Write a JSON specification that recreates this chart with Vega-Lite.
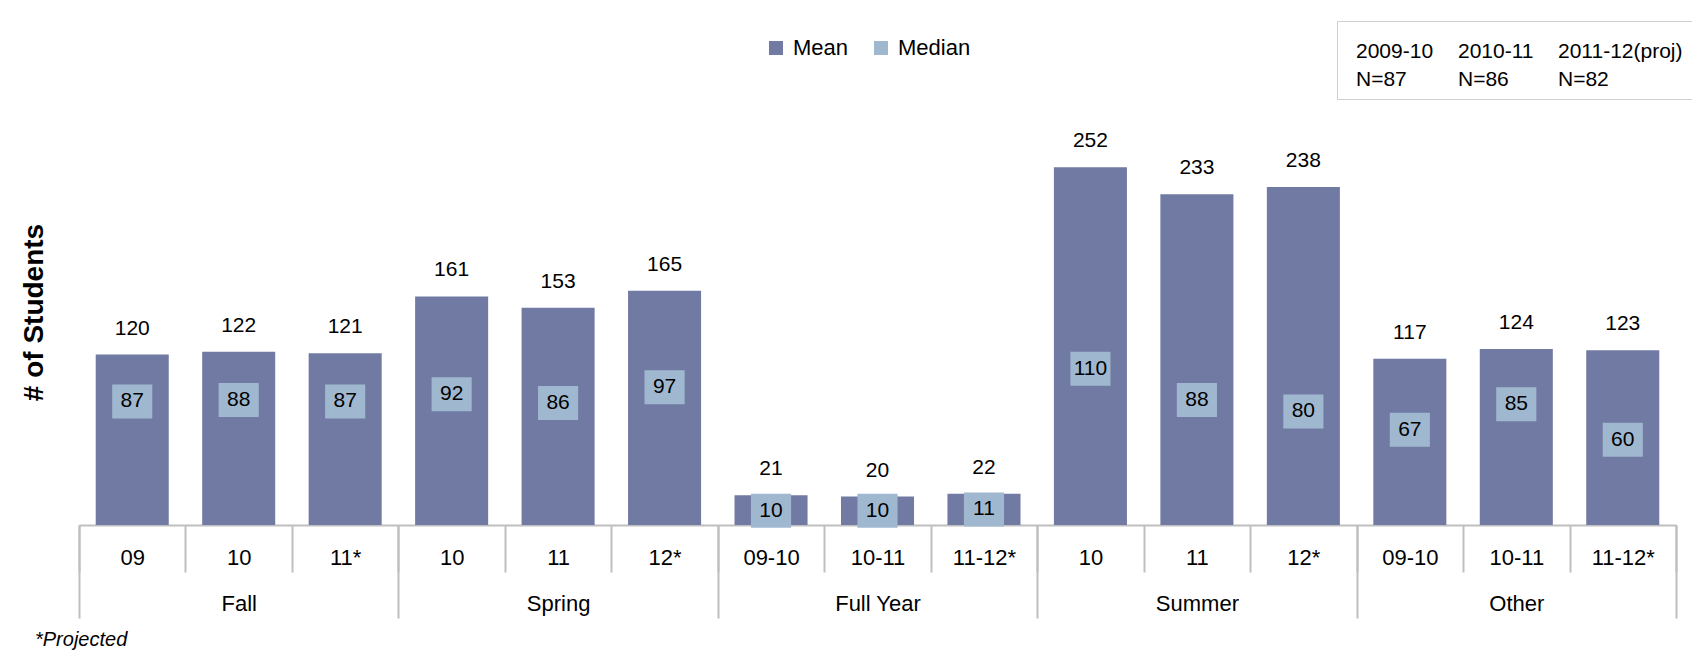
{
  "$schema": "https://vega.github.io/schema/vega-lite/v6.json",
  "width": 1597,
  "height": 426,
  "autosize": {"type": "none"},
  "padding": {"left": 79, "top": 99, "right": 16, "bottom": 135},
  "background": "white",
  "config": {
    "font": "Liberation Sans",
    "view": {"stroke": null},
    "style": {"guide-label": {"lineHeight": 28}},
    "axisY": {
      "title": "# of Students",
      "titleFont": "Liberation Sans",
      "titleFontSize": 28,
      "titleFontWeight": "bold",
      "titleColor": "#000000",
      "titlePadding": 31,
      "labels": false,
      "ticks": false,
      "domain": false,
      "grid": false
    }
  },
  "title": {
    "text": "*Projected",
    "orient": "bottom",
    "anchor": "start",
    "frame": "bounds",
    "font": "Liberation Sans",
    "fontSize": 20,
    "fontStyle": "italic",
    "fontWeight": "normal",
    "color": "#000000",
    "offset": 11,
    "dx": 15
  },
  "data": {
    "values": [
      {"group": "Fall", "sub": "09", "key": "Fall|09", "mean": 120, "median": 87},
      {"group": "Fall", "sub": "10", "key": "Fall|10", "mean": 122, "median": 88},
      {"group": "Fall", "sub": "11*", "key": "Fall|11*", "mean": 121, "median": 87},
      {"group": "Spring", "sub": "10", "key": "Spring|10", "mean": 161, "median": 92},
      {"group": "Spring", "sub": "11", "key": "Spring|11", "mean": 153, "median": 86},
      {"group": "Spring", "sub": "12*", "key": "Spring|12*", "mean": 165, "median": 97},
      {"group": "Full Year", "sub": "09-10", "key": "Full Year|09-10", "mean": 21, "median": 10},
      {"group": "Full Year", "sub": "10-11", "key": "Full Year|10-11", "mean": 20, "median": 10},
      {"group": "Full Year", "sub": "11-12*", "key": "Full Year|11-12*", "mean": 22, "median": 11},
      {"group": "Summer", "sub": "10", "key": "Summer|10", "mean": 252, "median": 110},
      {"group": "Summer", "sub": "11", "key": "Summer|11", "mean": 233, "median": 88},
      {"group": "Summer", "sub": "12*", "key": "Summer|12*", "mean": 238, "median": 80},
      {"group": "Other", "sub": "09-10", "key": "Other|09-10", "mean": 117, "median": 67},
      {"group": "Other", "sub": "10-11", "key": "Other|10-11", "mean": 124, "median": 85},
      {"group": "Other", "sub": "11-12*", "key": "Other|11-12*", "mean": 123, "median": 60}
    ]
  },
  "layer": [
    {
      "encoding": {
        "x": {
          "field": "key",
          "type": "nominal",
          "sort": null,
          "scale": {"paddingInner": 0, "paddingOuter": 0},
          "axis": {
            "orient": "bottom",
            "title": null,
            "grid": false,
            "domain": true,
            "domainColor": "#BFBFBF",
            "domainWidth": 2,
            "ticks": true,
            "tickBand": "extent",
            "tickSize": 47,
            "tickColor": "#BFBFBF",
            "tickWidth": 2,
            "labelExpr": "split(datum.label, '|')[1]",
            "labelAngle": 0,
            "labelPadding": -15,
            "labelBaseline": "middle",
            "labelFont": "Liberation Sans",
            "labelFontSize": 22,
            "labelColor": "#000000"
          }
        }
      },
      "layer": [
        {
          "mark": {"type": "bar", "width": {"band": 0.686}},
          "encoding": {
            "y": {
              "field": "mean",
              "type": "quantitative",
              "scale": {"domain": [0, 300], "nice": false},
              "axis": {"title": "# of Students"}
            },
            "color": {
              "datum": "Mean",
              "type": "nominal",
              "scale": {"domain": ["Mean", "Median"], "range": ["#717AA3", "#A0B8CF"]},
              "legend": {
                "orient": "none",
                "legendX": 686,
                "legendY": -62,
                "direction": "horizontal",
                "title": null,
                "padding": 0,
                "symbolType": "square",
                "symbolSize": 196,
                "symbolStrokeWidth": 0,
                "symbolOpacity": 1,
                "labelFont": "Liberation Sans",
                "labelFontSize": 22,
                "labelColor": "#000000",
                "labelOffset": 6,
                "columnPadding": 21
              }
            }
          }
        },
        {
          "mark": {"type": "text", "baseline": "alphabetic", "dy": -20, "fontSize": 21, "font": "Liberation Sans", "color": "#000000"},
          "encoding": {
            "y": {"field": "mean", "type": "quantitative", "axis": {"title": "# of Students"}},
            "text": {"field": "mean", "type": "quantitative"}
          }
        },
        {
          "mark": {"type": "point", "shape": "M-1.18,-1L1.18,-1L1.18,1L-1.18,1Z", "size": 1156, "filled": true, "opacity": 1, "strokeWidth": 0},
          "encoding": {
            "y": {"field": "median", "type": "quantitative", "axis": {"title": "# of Students"}},
            "color": {"datum": "Median", "type": "nominal"}
          }
        },
        {
          "mark": {"type": "text", "baseline": "middle", "fontSize": 21, "font": "Liberation Sans", "color": "#000000"},
          "encoding": {
            "y": {"field": "median", "type": "quantitative", "axis": {"title": "# of Students"}},
            "text": {"field": "median", "type": "quantitative"}
          }
        }
      ]
    },
    {
      "mark": {"type": "rect", "opacity": 0},
      "encoding": {
        "x": {
          "field": "group",
          "type": "nominal",
          "sort": null,
          "scale": {"domain": ["Fall", "Spring", "Full Year", "Summer", "Other"], "paddingInner": 0, "paddingOuter": 0},
          "axis": {
            "orient": "bottom",
            "title": null,
            "grid": false,
            "domain": false,
            "ticks": true,
            "tickBand": "extent",
            "tickSize": 93,
            "tickColor": "#BFBFBF",
            "tickWidth": 2,
            "labelAngle": 0,
            "labelPadding": -15,
            "labelBaseline": "middle",
            "labelFont": "Liberation Sans",
            "labelFontSize": 22,
            "labelColor": "#000000"
          }
        }
      }
    },
    {
      "data": {
        "values": [
          {"period": "2009-10", "n": 87, "lab": "2009-10|N=87"},
          {"period": "2010-11", "n": 86, "lab": "2010-11|N=86"},
          {"period": "2011-12(proj)", "n": 82, "lab": "2011-12(proj)|N=82"}
        ]
      },
      "mark": {"type": "point", "opacity": 0},
      "encoding": {
        "shape": {
          "field": "lab",
          "type": "nominal",
          "sort": null,
          "scale": {"domain": ["2009-10|N=87", "2010-11|N=86", "2011-12(proj)|N=82"]},
          "legend": {
            "orient": "none",
            "legendX": 1258,
            "legendY": -78,
            "direction": "horizontal",
            "columns": 3,
            "title": null,
            "padding": 9,
            "strokeColor": "#CFCFCF",
            "symbolOpacity": 0,
            "symbolSize": 1,
            "labelOffset": -11,
            "labelAlign": "left",
            "labelBaseline": "top",
            "labelExpr": "split(datum.label, '|')",
            "labelFont": "Liberation Sans",
            "labelFontSize": 21,
            "labelColor": "#000000",
            "columnPadding": 14
          }
        }
      }
    }
  ],
  "resolve": {"scale": {"x": "independent"}, "axis": {"x": "independent"}}
}
